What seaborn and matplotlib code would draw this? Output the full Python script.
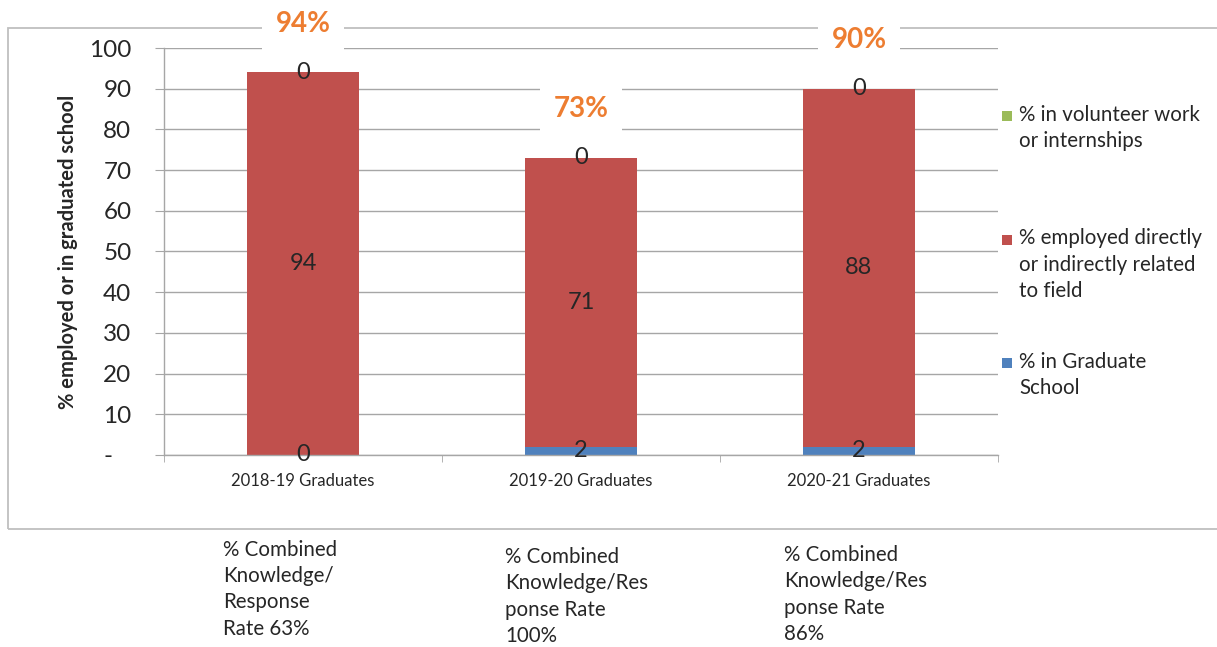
import numpy as np
import pandas as pd
import matplotlib
matplotlib.use("Agg")
import matplotlib.pyplot as plt
import seaborn as sns
from matplotlib.patches import Rectangle

# ---- data ----
cohorts = ["2018-19 Graduates", "2019-20 Graduates", "2020-21 Graduates"]
grad_school = [0, 2, 2]
employed = [94, 71, 88]
volunteer = [0, 0, 0]
totals_pct = ["94%", "73%", "90%"]
response_notes = [
    "% Combined\nKnowledge/\nResponse\nRate 63%",
    "% Combined\nKnowledge/Res\nponse Rate\n100%",
    "% Combined\nKnowledge/Res\nponse Rate\n86%",
]
series_names = [
    "% in volunteer work\nor internships",
    "% employed directly\nor indirectly related\nto field",
    "% in Graduate\nSchool",
]

c_blue, c_red, c_green = "#4F81BD", "#C0504D", "#9BBB59"
grid_col = "#A6A6A6"

sns.set_style("white")
plt.rcParams["font.family"] = ["Lato", "DejaVu Sans"]

df = pd.DataFrame({"cohort": cohorts, "grad": grad_school,
                   "emp": employed, "vol": volunteer})
df["cum_grad"] = df["grad"]
df["cum_emp"] = df["cum_grad"] + df["emp"]
df["cum_vol"] = df["cum_emp"] + df["vol"]

fig = plt.figure(figsize=(12.17, 6.47), dpi=100)
ax = fig.add_axes([0.1348, 0.2968, 0.6852, 0.629])
ax.set_facecolor("none")

# stacked look: tallest cumulative first
for col, c in [("cum_vol", c_green), ("cum_emp", c_red), ("cum_grad", c_blue)]:
    sns.barplot(data=df, x="cohort", y=col, color=c, width=0.4,
                saturation=1, linewidth=0, ax=ax, zorder=2)

# segment labels
for i in range(len(cohorts)):
    ax.text(i, df.grad[i] / 2, str(df.grad[i]), ha="center", va="center",
            fontsize=17, zorder=5)
    ax.text(i, df.cum_grad[i] + df.emp[i] / 2, str(df.emp[i]), ha="center",
            va="center", fontsize=17, zorder=5)
    ax.text(i, df.cum_emp[i] + df.vol[i] / 2, str(df.vol[i]), ha="center",
            va="center", fontsize=17, zorder=5)
    ax.text(i, df.cum_vol[i] + 12, totals_pct[i], ha="center", va="center",
            fontsize=20, fontweight="bold", color="#ED7D31", clip_on=False,
            zorder=6, bbox=dict(boxstyle="square,pad=0.5", fc="white", ec="none"))

ax.set_ylim(0, 100)
ax.set_xlim(-0.5, 2.5)
ax.set_yticks(range(0, 101, 10))
ax.set_yticklabels(["-   "] + [str(v) for v in range(10, 101, 10)], fontsize=17.5)
ax.yaxis.grid(True, color=grid_col, lw=1)
ax.set_axisbelow(True)
ax.set_xlabel("")
ax.set_ylabel("% employed or in graduated school", fontsize=14.5,
              fontweight="bold", labelpad=8)

ax.set_xticks([0, 1, 2])
ax.set_xticklabels(cohorts, fontsize=12)
ax.set_xticks([-0.5, 0.5, 1.5, 2.5], minor=True)
ax.tick_params(axis="x", which="major", length=0, pad=13)
ax.tick_params(axis="x", which="minor", length=5, color=grid_col,
               direction="out", bottom=True)
ax.tick_params(axis="y", length=6.5, color=grid_col, direction="out", left=True,
               pad=17)
for s in ["top", "right"]:
    ax.spines[s].set_visible(False)
for s in ["left", "bottom"]:
    ax.spines[s].set_color(grid_col)
    ax.spines[s].set_linewidth(1)

# outer chart frame
fig.patches.append(Rectangle((0.0066, 0.1824), 1.2, 0.9567 - 0.1824,
                             transform=fig.transFigure, fill=False,
                             ec="#BFBFBF", lw=1.3, zorder=-1))

# legend, drawn by hand so each marker sits on the first line of its label
W, H = 1217.0, 647.0
for k, (name, c) in enumerate(zip(series_names, [c_green, c_red, c_blue])):
    yc = 116 + k * 123.5
    fig.patches.append(Rectangle((1002 / W, 1 - (yc + 5) / H), 10 / W, 10 / H,
                                 transform=fig.transFigure, fc=c, ec="none"))
    fig.text(1019 / W, 1 - (yc - 11) / H, name, ha="left", va="top",
             fontsize=14.8, linespacing=1.4)

# response notes under the chart
for x, y, t in zip([0.183, 0.415, 0.644], [0.166, 0.155, 0.158], response_notes):
    fig.text(x, y, t, ha="left", va="top", fontsize=14.8, linespacing=1.4)

fig.savefig("out.png", dpi=100)
